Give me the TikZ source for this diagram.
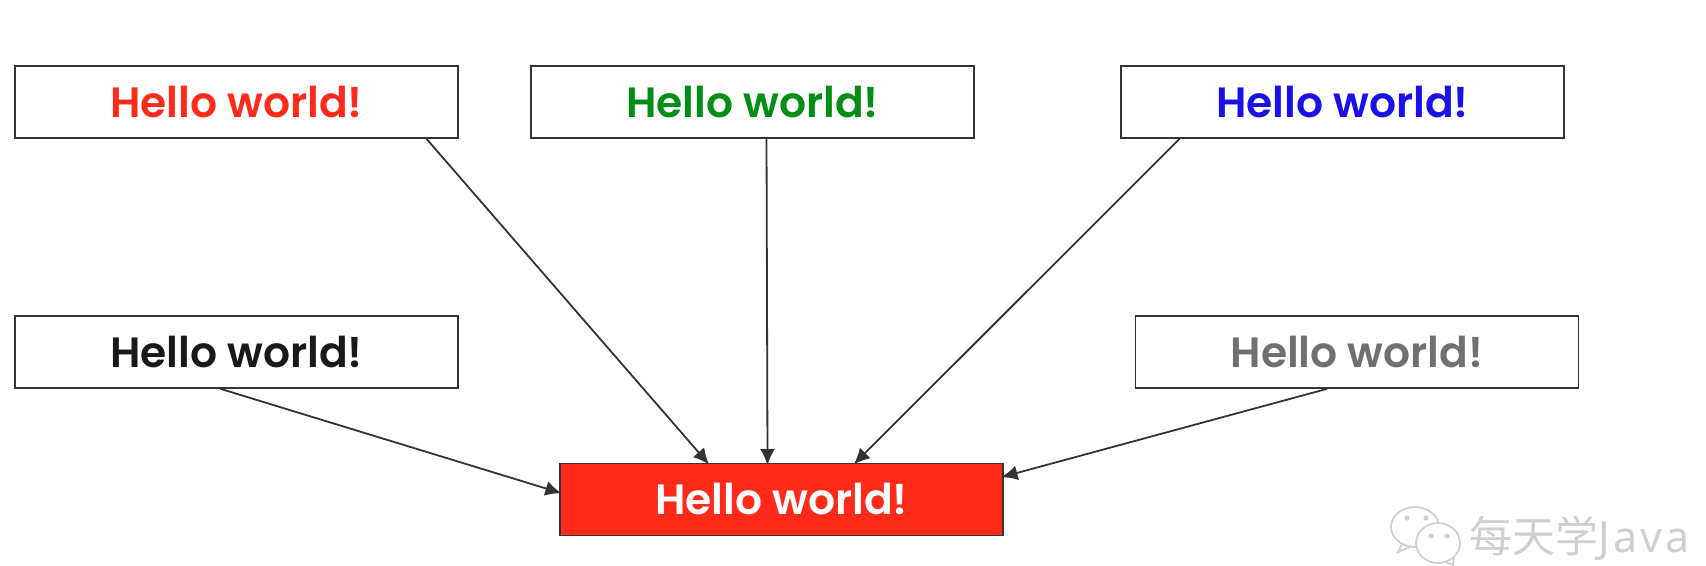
\documentclass[tikz,border=0pt]{standalone}
\usepackage{fontspec}
\setmainfont{Poppins}[BoldFont=Poppins SemiBold]
\newfontfamily\cjk{Noto Sans CJK SC}
\newfontfamily\latn[LetterSpace=7]{Noto Sans}
\usepackage{tikz}
\usetikzlibrary{arrows.meta,positioning}
\definecolor{hellored}{HTML}{FF2A1A}
\definecolor{hellogreen}{HTML}{008F14}
\definecolor{helloblue}{HTML}{1A10E8}
\definecolor{hellogray}{HTML}{707070}
\definecolor{markgray}{HTML}{CFCFCF}

\begin{document}
\begin{tikzpicture}[>={Latex[length=8pt,width=7.5pt]},x=0.5pt,y=-0.5pt]
\tikzstyle{block}=[draw=black!80, line width=0.85pt, rectangle, minimum height=36pt, minimum width=221.5pt, inner sep=0pt, font=\fontsize{21.2pt}{24pt}\selectfont\bfseries]
\tikzstyle{link}=[->, draw=black!80, line width=0.9pt, shorten >=-1.2pt]
\useasboundingbox (0,0) rectangle (1706,566);

\node[block, text=hellored] (red) at (236.5,102) {Hello world!};
\node[block, text=hellogreen] (green) at (752.5,102) {Hello world!};
\node[block, text=helloblue] (blue) at (1342.5,102) {Hello world!};
\node[block, text=black!90] (black) at (236.5,352) {Hello world!};
\node[block, text=hellogray] (gray) at (1357,352) {Hello world!};
\node[block, fill=hellored, text=white] (target) at (781.5,499.5) {Hello world!};

\draw[link] ([xshift=95pt]red.south) -- ([xshift=-37pt]target.north);
\draw[link] ([xshift=7pt]green.south) -- ([xshift=-7pt]target.north);
\draw[link] ([xshift=-81.5pt]blue.south) -- ([xshift=37pt]target.north);
\draw[link] ([xshift=-8pt]black.south) -- ([yshift=3.5pt]target.west);
\draw[link] ([xshift=-15pt]gray.south) -- ([yshift=11.5pt]target.east);

% watermark
\begin{scope}[draw=markgray, line width=0.9pt]
\draw (1415,527) ellipse (12pt and 10pt);
\draw[fill=white] (1438,543) ellipse (11pt and 10pt);
\draw (1402,544) -- (1398,552) -- (1410,547);
\draw (1446,562) -- (1453,565) -- (1454,558);
\fill[markgray] (1407,518) circle (1.3pt) (1426,518) circle (1.3pt);
\fill[markgray] (1431,536) circle (1.3pt) (1447,536) circle (1.3pt);
\end{scope}
\node[anchor=west, inner sep=0pt, text=markgray, font=\fontsize{21.5pt}{24pt}\selectfont] (mark) at (1469,538) {{\cjk 每天学}{\latn Java}};
\end{tikzpicture}
\end{document}
